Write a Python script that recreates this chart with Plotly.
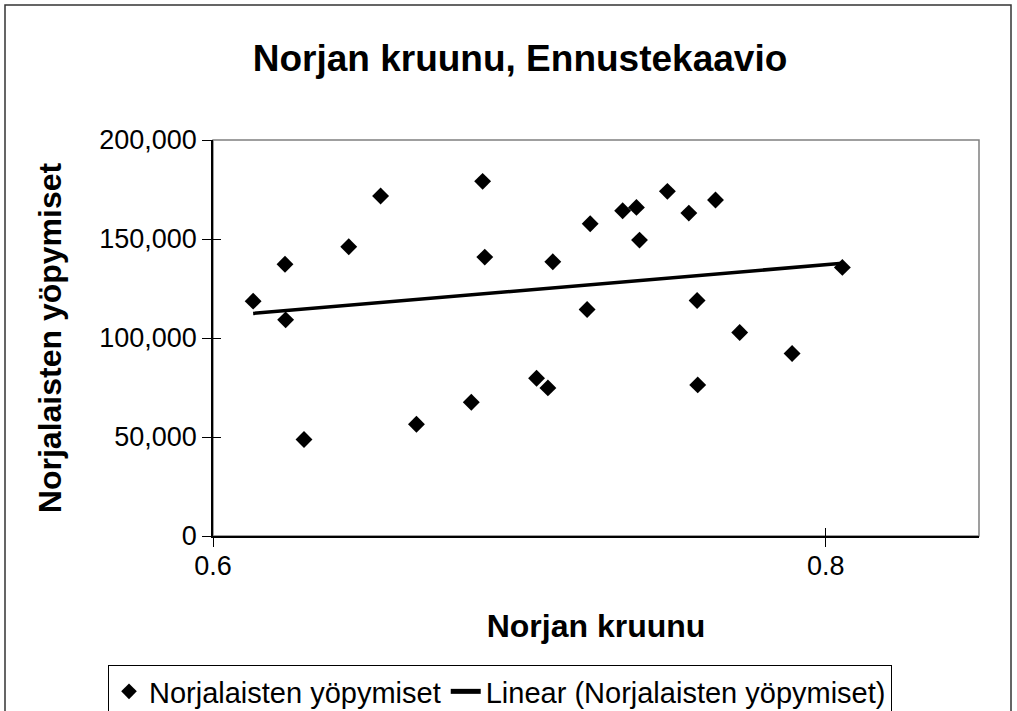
import numpy as np
import plotly.graph_objects as go

# Data
nok_rate = [0.6131, 0.6235, 0.6237, 0.6297, 0.6443, 0.6547, 0.6664, 0.6843, 0.6880,
            0.6887, 0.7056, 0.7093, 0.7109, 0.7221, 0.7231, 0.7337, 0.7382, 0.7392,
            0.7483, 0.7553, 0.7580, 0.7582, 0.7640, 0.7719, 0.7890, 0.8054]
overnights = [118620, 137270, 109170, 48720, 146060, 171680, 56450, 67570, 179110,
              140860, 79700, 74800, 138490, 114420, 157690, 164260, 165970, 149450,
              174060, 163090, 118970, 76320, 169660, 102800, 92180, 135650]

series_name = "Norjalaisten yöpymiset"
trend_name = "Linear (Norjalaisten yöpymiset)"
title_text = "Norjan kruunu, Ennustekaavio"
x_title = "Norjan kruunu"
y_title = "Norjalaisten yöpymiset"

x_range = [0.6, 0.85]
y_range = [0, 200000]

# Linear trendline (least squares), drawn across the data's x extent
xa = np.array(nok_rate)
ya = np.array(overnights)
slope, intercept = np.polyfit(xa, ya, 1)
trend_x = [xa.min(), xa.max()]
trend_y = [slope * v + intercept for v in trend_x]

FONT = "Arial, 'Liberation Sans', sans-serif"

fig = go.Figure()
fig.add_trace(go.Scatter(
    x=nok_rate, y=overnights, mode="markers", name=series_name,
    marker=dict(symbol="diamond", size=13, color="#000000"),
))
fig.add_trace(go.Scatter(
    x=trend_x, y=trend_y, mode="lines", name=trend_name,
    line=dict(color="#000000", width=3.5),
))
# empty helper trace so the overlay axes (inner tick halves) get drawn
fig.add_trace(go.Scatter(
    x=[], y=[], xaxis="x2", yaxis="y2", mode="markers",
    showlegend=False, hoverinfo="skip",
))

W, H = 1017, 711
L, R, T, B = 213, 38, 140, 175
pw, ph = W - L - R, H - T - B

def px_to_paper_x(px):
    return (px - L) / pw

def px_to_paper_y(py):
    return (H - B - py) / ph

fig.update_layout(
    width=W, height=H,
    margin=dict(l=L, r=R, t=T, b=B, pad=0, autoexpand=False),
    paper_bgcolor="white", plot_bgcolor="white",
    font=dict(family=FONT, color="#000000"),
    title=dict(text=f"<b>{title_text}</b>", x=520 / W, xref="container", xanchor="center",
               y=1 - 58 / H, yref="container", yanchor="middle",
               font=dict(size=37, family=FONT, color="#000000")),
    showlegend=True,
    legend=dict(orientation="h", x=px_to_paper_x(108), xanchor="left",
                y=px_to_paper_y(665), yanchor="top",
                bordercolor="#000000", borderwidth=1, bgcolor="white",
                font=dict(size=29, family=FONT, color="#000000"),
                itemsizing="constant", traceorder="normal"),
    xaxis=dict(range=x_range, tick0=0.6, dtick=0.2, tickformat=".1f",
               showgrid=False, zeroline=False, showline=True, linecolor="#000000", linewidth=1.5,
               ticks="outside", ticklen=9, tickcolor="#000000", tickwidth=1,
               ticklabelstandoff=-4,
               tickfont=dict(size=27, family=FONT),
               title=dict(text=f"<b>{x_title}</b>", font=dict(size=32, family=FONT), standoff=34)),
    yaxis=dict(range=y_range, tick0=0, dtick=50000, tickformat=",d",
               showgrid=False, zeroline=False, showline=True, linecolor="#000000", linewidth=1.5,
               ticks="outside", ticklen=9, tickcolor="#000000", tickwidth=1,
               tickfont=dict(size=27, family=FONT),
               title=dict(text=f"<b>{y_title}</b>", font=dict(size=32, family=FONT), standoff=28)),
    # overlay axes carrying the inner half of the crossing tick marks
    xaxis2=dict(range=x_range, tick0=0.6, dtick=0.2, overlaying="x", anchor="y2",
                side="bottom", showgrid=False, zeroline=False, showline=False,
                ticks="inside", ticklen=8, tickcolor="#000000", tickwidth=1,
                showticklabels=False, fixedrange=True),
    yaxis2=dict(range=y_range, tick0=0, dtick=50000, overlaying="y", anchor="x2",
                side="left", showgrid=False, zeroline=False, showline=False,
                ticks="inside", ticklen=8, tickcolor="#000000", tickwidth=1,
                showticklabels=False, fixedrange=True),
    shapes=[
        # grey plot-area frame (top and right edges)
        dict(type="rect", xref="paper", yref="paper", x0=0, x1=1, y0=0, y1=1,
             line=dict(color="#808080", width=1.5), layer="below"),
        # outer chart border
        dict(type="rect", xref="paper", yref="paper",
             x0=px_to_paper_x(5), x1=px_to_paper_x(1011),
             y0=px_to_paper_y(716), y1=px_to_paper_y(5),
             line=dict(color="#333333", width=1.5), layer="below"),
    ],
)

fig.write_html(
    "out.html",
    config={"displayModeBar": False},
    post_script="document.body.style.margin='0';document.body.style.overflow='hidden';",
)
